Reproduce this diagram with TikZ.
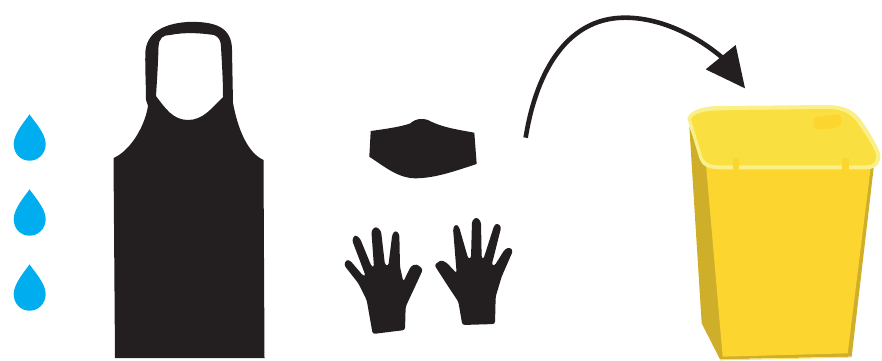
\documentclass[tikz,border=0pt]{standalone}
\definecolor{ink}{HTML}{231F20}
\definecolor{drop}{HTML}{00AEEF}
\definecolor{binfront}{HTML}{FCD62F}
\definecolor{binshade}{HTML}{CFAE2A}
\definecolor{lidrim}{HTML}{F9F08A}
\definecolor{lidtop}{HTML}{F9DF3F}
\tikzset{
  silhouette/.style={fill=ink,draw=none},
  finger/.style={silhouette,rounded corners=2.5pt},
  zoomA/.style={shift={(335,110)},x=0.33333pt,y=-0.33333pt},
  zoomB/.style={shift={(670,90)},x=0.33333pt,y=-0.33333pt},
  zoomC/.style={shift={(510,5)},x=0.33333pt,y=-0.33333pt},
}
\begin{document}
\begin{tikzpicture}[x=1pt,y=-1pt]
\useasboundingbox (0,0) rectangle (882,360);
% drops
\foreach \dy in {0,75,150}{
  \fill[drop,shift={(0,\dy)}] (29.5,114.3) .. controls (33,120) and (45.7,133) .. (45.7,144)
    .. controls (45.7,154) and (38,160.7) .. (29.5,160.7)
    .. controls (21,160.7) and (13.7,154) .. (13.7,144)
    .. controls (13.7,133) and (26,120) .. (29.5,114.3) -- cycle;
}
% apron
\path[silhouette,even odd rule]
  (115,358) -- (113.5,158)
  .. controls (128,152) and (144,130) .. (148,106)
  -- (146,100)
  .. controls (146,85) and (145,70) .. (145.3,53)
  .. controls (146,35) and (160,24) .. (187,22)
  .. controls (215,21) and (232,27) .. (232,50)
  -- (233,103)
  .. controls (238,130) and (248,153) .. (263.5,160)
  -- (264.5,358) -- cycle
  (156,96) .. controls (157,80) and (158,65) .. (158.5,47)
  .. controls (159,38) and (163,35) .. (170,35)
  .. controls (185,32) and (200,33) .. (214,35)
  .. controls (219,37) and (221,41) .. (221,47)
  .. controls (222,65) and (223,80) .. (223,97)
  .. controls (212,108) and (203,120) .. (188,120)
  .. controls (173,120) and (165,108) .. (156,96) -- cycle;
% mask
\path[silhouette] (370.7,131) .. controls (385,129) and (400,127) .. (410,123.5)
  .. controls (414,120) and (418,119) .. (421,119)
  .. controls (426,119) and (429,120) .. (432,122)
  .. controls (445,128) and (460,130) .. (474.3,132.7)
  -- (476.7,164)
  .. controls (455,171) and (435,178.3) .. (415,178.3)
  .. controls (398,178) and (385,167) .. (369.3,156.7) -- cycle;
% gloves
\begin{scope}[zoomA]
\path[finger] (113,672) -- (210,660) -- (212,590) -- (240,530) -- (264,478) -- (245,462) -- (228,468) -- (205,515)
  -- (195,470) -- (193,372) -- (182,361) -- (172,372) -- (160,468) -- (150,465) -- (138,362) -- (122,349) -- (109,362)
  -- (117,472) -- (110,470) -- (75,385) -- (60,374) -- (51,390) -- (92,498) -- (85,498) -- (45,451) -- (33,450) -- (27,465)
  -- (70,520) -- (95,570) -- cycle;
\path[finger] (382,645) -- (480,642) -- (482,560) -- (500,500) -- (534,422) -- (525,412) -- (510,417) -- (478,468)
  -- (470,465) -- (499,350) -- (488,340) -- (478,345) -- (445,448) -- (440,445) -- (438,335) -- (425,321) -- (411,332)
  -- (408,445) -- (400,447) -- (372,350) -- (362,342) -- (354,355) -- (365,490) -- (335,458) -- (318,450) -- (298,465)
  -- (340,530) -- (370,575) -- cycle;
\end{scope}
% arrow
\begin{scope}[zoomC]
\coordinate (arrowStart) at (47,398);
\coordinate (arrowEnd) at (645,165);
\draw[ink,line width=4.6pt] (arrowStart) .. controls (75,220) and (160,38) .. (345,38)
  .. controls (450,38) and (560,90) .. (arrowEnd);
\fill[ink] (677,120) -- (705,250) -- (587,193) -- cycle;
\end{scope}
% bin
\begin{scope}[zoomB]
\fill[binshade] (58,110) -- (95,700) -- (150,808) -- (545,800) -- (612,225) -- (100,225) -- cycle;
\fill[binfront] (108,225) -- (158,800) -- (533,790) -- (603,225) -- cycle;
\fill[binfront!70!white] (150,808) -- (545,800) -- (545,803) -- (150,811) -- cycle;
\fill[lidrim] (52,85) .. controls (60,60) and (100,48) .. (150,48) -- (470,45)
  .. controls (520,45) and (550,60) .. (570,85)
  .. controls (590,115) and (625,165) .. (631,195)
  .. controls (634,215) and (620,238) .. (590,238)
  -- (150,238) .. controls (110,238) and (95,225) .. (88,205) -- cycle;
\fill[lidtop] (63,88) .. controls (70,68) and (110,62) .. (150,61) -- (470,57)
  .. controls (515,57) and (540,70) .. (560,95)
  .. controls (580,125) and (612,170) .. (618,195)
  .. controls (620,212) and (610,226) .. (590,226)
  -- (150,226) .. controls (115,226) and (103,215) .. (97,200) -- cycle;
\fill[binfront,rounded corners=4.5pt] (428,82) -- (513,72) -- (513,112) -- (432,120) -- cycle;
\fill[binfront] (190,205) rectangle (207,240);
\fill[binfront] (517,205) rectangle (537,240);
\end{scope}
\end{tikzpicture}
\end{document}
